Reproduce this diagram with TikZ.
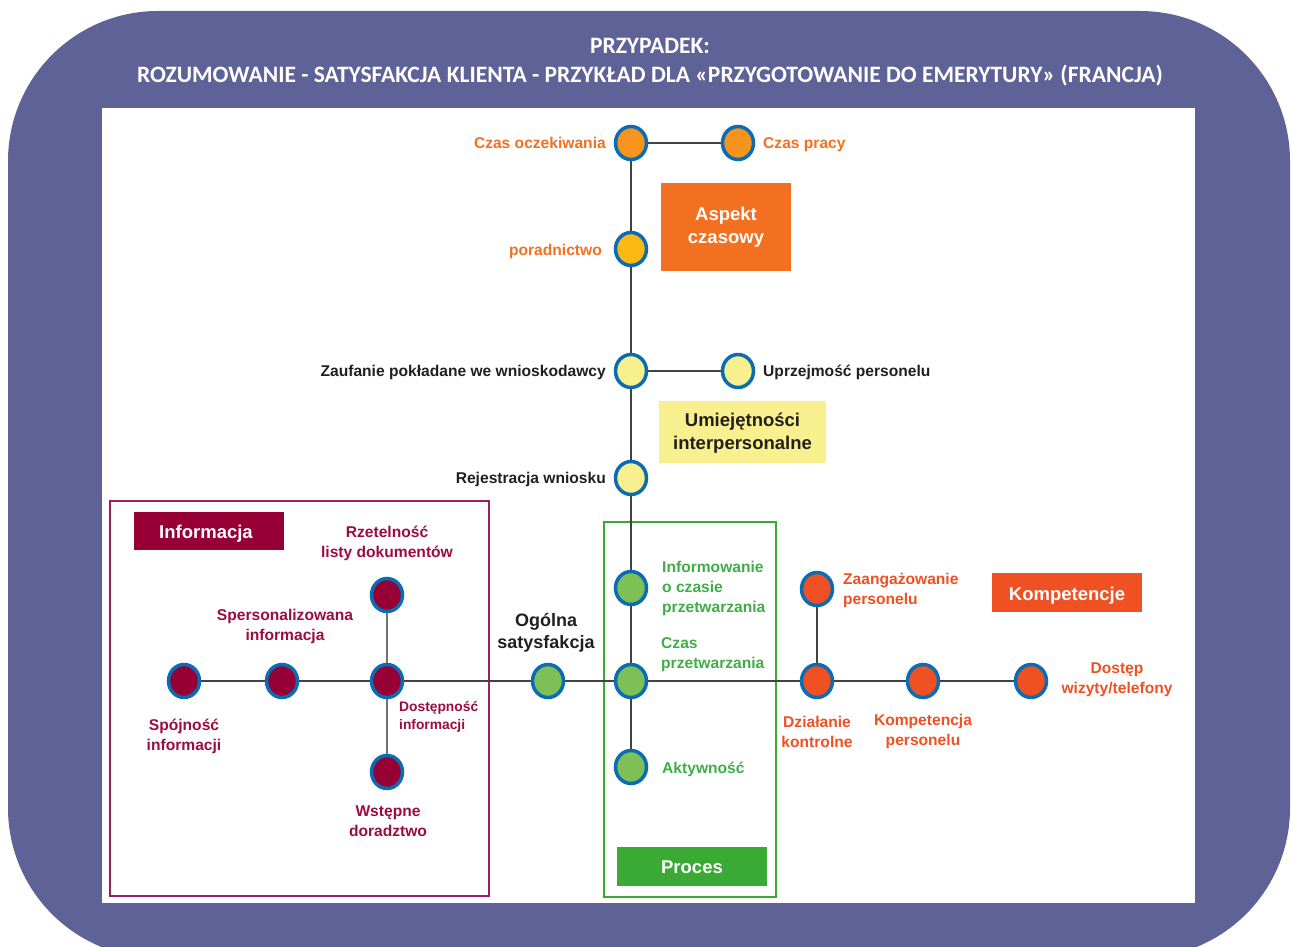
\documentclass[tikz,border=0pt]{standalone}
\usepackage{fontspec}
\setmainfont{Liberation Sans}
\newfontfamily\titlefont{Carlito}
\usetikzlibrary{shapes.geometric}
\definecolor{frameviolet}{HTML}{5F6297}
\definecolor{dotblue}{HTML}{0A6CB3}
\definecolor{dotorange}{HTML}{F7941D}
\definecolor{dotgold}{HTML}{FDB913}
\definecolor{paleyellow}{HTML}{F8F08E}
\definecolor{leafgreen}{HTML}{7DC055}
\definecolor{wine}{HTML}{960035}
\definecolor{winetext}{HTML}{9B0D40}
\definecolor{wineframe}{HTML}{9B2062}
\definecolor{procgreen}{HTML}{3AAA35}
\definecolor{textgreen}{HTML}{41AD49}
\definecolor{timeorange}{HTML}{F37021}
\definecolor{compred}{HTML}{EF5123}
\definecolor{inkdark}{HTML}{231F20}
\tikzset{
  dot/.style={ellipse, draw=dotblue, line width=3.5pt, minimum width=31pt,
    minimum height=33pt, inner sep=0pt},
  lbl/.style={font=\bfseries\fontsize{15.6}{20}\selectfont, inner sep=0pt, align=center},
  smalllbl/.style={font=\bfseries\fontsize{13.8}{18}\selectfont, inner sep=0pt, align=left},
  boxtitle/.style={font=\bfseries\fontsize{18.5}{23}\selectfont, inner sep=0pt, align=center},
  link/.style={draw=inkdark!85, line width=1.4pt},
  softlink/.style={draw=black!55, line width=1.4pt},
}
\begin{document}
\begin{tikzpicture}[x=1pt,y=-1pt]
\useasboundingbox (0,0) rectangle (1291,947);
% outer rounded panel and white drawing area
\begin{scope}
  \clip (0,0) rectangle (1291,947);
  \fill[frameviolet] (8,11) [rounded corners=150pt] rectangle (1290,958);
\end{scope}
\fill[white] (102,108) rectangle (1195,903);
\node[text=white, font=\titlefont\bfseries\fontsize{23.5}{29}\selectfont, align=center, inner sep=0pt] (title) at (650,62)
  {PRZYPADEK:\\ROZUMOWANIE - SATYSFAKCJA KLIENTA - PRZYKŁAD DLA «PRZYGOTOWANIE DO EMERYTURY» (FRANCJA)};

% group frames and labelled boxes
\draw[wineframe, line width=2pt] (110,501) rectangle (489,896);
\draw[procgreen, line width=2pt] (604,522) rectangle (776,897);
\node[fill=timeorange, minimum width=130pt, minimum height=88pt, inner sep=0pt] (aspbox) at (726,227) {};
\node[boxtitle, text=white] at (aspbox) {Aspekt\\czasowy};
\node[fill=paleyellow, minimum width=167pt, minimum height=62pt, inner sep=0pt] (umbox) at (742.5,432) {};
\node[boxtitle, text=inkdark] at ([yshift=-1pt]umbox.center) {Umiejętności\\interpersonalne};
\node[fill=wine, minimum width=150pt, minimum height=38pt, inner sep=0pt] (infbox) at (209,531) {};
\node[boxtitle, text=white] at ([xshift=-3pt,yshift=-3pt]infbox.center) {Informacja};
\node[fill=procgreen, minimum width=150pt, minimum height=39pt, inner sep=0pt] (procbox) at (692,866.5) {};
\node[boxtitle, text=white] at ([yshift=-1pt]procbox.center) {Proces};
\node[fill=compred, minimum width=150pt, minimum height=39pt, inner sep=0pt] (kompbox) at (1067,592.5) {};
\node[boxtitle, text=white] at ([yshift=-3pt]kompbox.center) {Kompetencje};

% dots
\node[dot, fill=dotorange] (co) at (631,143) {};
\node[dot, fill=dotorange] (cp) at (738,143) {};
\node[dot, fill=dotgold] (por) at (631,249) {};
\node[dot, fill=paleyellow] (zau) at (631,371) {};
\node[dot, fill=paleyellow] (upr) at (738,371) {};
\node[dot, fill=paleyellow] (rej) at (631,478) {};
\node[dot, fill=leafgreen] (ioc) at (631,588) {};
\node[dot, fill=leafgreen] (czp) at (631,681) {};
\node[dot, fill=leafgreen] (akt) at (631,767) {};
\node[dot, fill=leafgreen] (ogs) at (548,681) {};
\node[dot, fill=wine] (spo) at (184,681) {};
\node[dot, fill=wine] (spe) at (282,681) {};
\node[dot, fill=wine] (dos) at (387,681) {};
\node[dot, fill=wine] (rze) at (387,595) {};
\node[dot, fill=wine] (wst) at (387,772) {};
\node[dot, fill=compred] (dzi) at (817,681) {};
\node[dot, fill=compred] (zaa) at (817,589) {};
\node[dot, fill=compred] (kpe) at (923,681) {};
\node[dot, fill=compred] (dst) at (1031,681) {};

% connectors
\draw[link] (co) -- (cp);
\draw[link] (zau) -- (upr);
\draw[link] (co) -- (por);
\draw[link] (por) -- (zau);
\draw[link] (zau) -- (rej);
\draw[link] (rej) -- (ioc);
\draw[link] (ioc) -- (czp);
\draw[link] (czp) -- (akt);
\draw[link] (spo) -- (spe);
\draw[link] (spe) -- (dos);
\draw[link] (dos) -- (ogs);
\draw[link] (ogs) -- (czp);
\draw[link] (czp) -- (dzi);
\draw[link] (dzi) -- (kpe);
\draw[link] (kpe) -- (dst);
\draw[softlink] (rze) -- (dos);
\draw[softlink] (dos) -- (wst);
\draw[link] (zaa) -- (dzi);

% labels: time aspect
\node[lbl, text=timeorange, anchor=base east] (lco) at (606,148.5) {Czas oczekiwania};
\node[lbl, text=timeorange, anchor=base west] (lcp) at (763,148.5) {Czas pracy};
\node[lbl, text=timeorange, anchor=base east] (lpor) at (602,255.5) {poradnictwo};
% labels: interpersonal skills
\node[lbl, text=inkdark, anchor=base east] (lzau) at (606,376.5) {Zaufanie pokładane we wnioskodawcy};
\node[lbl, text=inkdark, anchor=base west] (lupr) at (763,376.5) {Uprzejmość personelu};
\node[lbl, text=inkdark, anchor=base east] (lrej) at (606,483.5) {Rejestracja wniosku};
% labels: information
\node[lbl, text=winetext] (lrze) at (387,543) {Rzetelność\\listy dokumentów};
\node[lbl, text=winetext] (lspe) at (285,626) {Spersonalizowana\\informacja};
\node[lbl, text=winetext] (lspo) at (184,736) {Spójność\\informacji};
\node[smalllbl, text=winetext, anchor=west] (ldos) at (399,717) {Dostępność\\informacji};
\node[lbl, text=winetext] (lwst) at (388,821) {Wstępne\\doradztwo};
% labels: overall and process
\node[font=\bfseries\fontsize{18}{22}\selectfont, inner sep=0pt, align=center, text=inkdark] (logs) at (546,633) {Ogólna\\satysfakcja};
\node[lbl, text=textgreen, anchor=west, align=left] (lioc) at (662,588) {Informowanie\\o czasie\\przetwarzania};
\node[lbl, text=textgreen, anchor=west, align=left] (lczp) at (661,655) {Czas\\przetwarzania};
\node[lbl, text=textgreen, anchor=base west] (lakt) at (662,773.5) {Aktywność};
% labels: competences
\node[lbl, text=compred, anchor=west, align=left] (lzaa) at (843,590) {Zaangażowanie\\personelu};
\node[lbl, text=compred] (ldst) at (1117,680) {Dostęp\\wizyty/telefony};
\node[lbl, text=compred] (ldzi) at (817,731.5) {Działanie\\kontrolne};
\node[lbl, text=compred] (lkpe) at (923,731.5) {Kompetencja\\personelu};
\end{tikzpicture}
\end{document}
